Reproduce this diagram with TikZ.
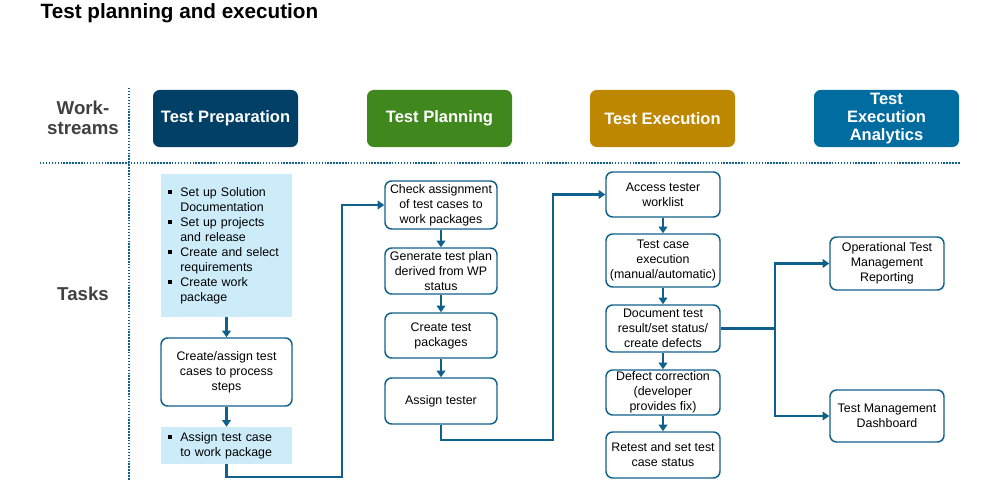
\documentclass[tikz,border=0pt]{standalone}
\usepackage{fontspec}
\setmainfont{Liberation Sans}
\definecolor{prepblue}{RGB}{0, 63, 102}
\definecolor{plangreen}{RGB}{64, 135, 30}
\definecolor{execgold}{RGB}{190, 135, 0}
\definecolor{anablue}{RGB}{0, 108, 160}
\definecolor{lineblue}{RGB}{16, 96, 140}
\definecolor{notefill}{RGB}{204, 236, 250}
\definecolor{labelgray}{RGB}{64, 64, 64}
\usepackage{tikz}
\usetikzlibrary{arrows.meta, positioning, calc}
\newcommand{\sqb}{\raisebox{1.8pt}{\rule{3pt}{3pt}}}
\tikzset{
  header/.style={rounded corners=5pt, text=white, font=\bfseries\fontsize{12.4}{13.5}\selectfont,
    minimum width=108.75pt, minimum height=42.75pt, align=center, inner sep=1pt},
  taskbox/.style={draw=lineblue, line width=1.1pt, rounded corners=5pt, fill=white,
    align=center, inner sep=1pt, font=\fontsize{9.3}{11.25}\selectfont},
  notebox/.style={fill=notefill, inner xsep=5pt, inner ysep=2pt, text width=88.25pt,
    align=left, font=\fontsize{9.3}{11.25}\selectfont},
  flow/.style={draw=lineblue, line width=2.1pt, -{Triangle[length=5pt, width=6.5pt]}},
  divider/.style={draw=lineblue, line width=1.5pt, dash pattern=on 1.1pt off 1.1pt},
  rowlabel/.style={font=\bfseries\fontsize{14}{15}\selectfont, text=labelgray, align=center}
}

\begin{document}
\begin{tikzpicture}[x=0.75pt, y=-0.75pt]
  \useasboundingbox (0,0) rectangle (1000,485);
  \node[anchor=west, font=\bfseries\fontsize{15.5}{18}\selectfont] (title) at (36,13) {Test planning and execution};

  % row labels and dividers
  \node[rowlabel] (lwork) at (83,118) {Work-\\streams};
  \node[rowlabel] (ltask) at (83,294) {Tasks};
  \draw[divider] (40,163) -- (960,163);
  \draw[divider] (129,88) -- (129,480);

  % workstream headers
  \foreach \x/\c/\t/\n in {225.5/prepblue/{Test Preparation}/hprep,
                            439.5/plangreen/{Test Planning}/hplan,
                            662.5/execgold/{Test Execution}/hexec,
                            886.5/anablue/{Test\\Execution\\Analytics}/hana} {
    \node[header, fill=\c] (\n) at (\x,118.5) {\t};
  }

  % test preparation
  \node[notebox, minimum height=107.25pt] (prepa) at (226.5,245.5) {%
    \begin{tabular}{@{}l@{\hspace{6.5pt}}l@{}}
      \sqb & Set up Solution\\ & Documentation\\
      \sqb & Set up projects\\ & and release\\
      \sqb & Create and select\\ & requirements\\
      \sqb & Create work\\ & package
    \end{tabular}};
  \node[taskbox, minimum width=98.25pt, minimum height=51pt] (prepb) at (226.5,372) {Create/assign test\\cases to process\\steps};
  \node[notebox, minimum height=27.75pt] (prepc) at (226.5,445.5) {%
    \begin{tabular}{@{}l@{\hspace{6.5pt}}l@{}}
      \sqb & Assign test case\\ & to work package
    \end{tabular}};

  % test planning
  \node[taskbox, minimum width=84pt, minimum height=36pt] (plana) at (441,205) {Check assignment\\of test cases to\\work packages};
  \node[taskbox, minimum width=84pt, minimum height=34.5pt] (planb) at (441,271) {Generate test plan\\derived from WP\\status};
  \node[taskbox, minimum width=84pt, minimum height=33.75pt] (planc) at (441,335.5) {Create test\\packages};
  \node[taskbox, minimum width=84pt, minimum height=34.5pt] (pland) at (441,401) {Assign tester};

  % test execution
  \node[taskbox, minimum width=85.5pt, minimum height=33.75pt] (execa) at (663,194.5) {Access tester\\worklist};
  \node[taskbox, minimum width=85.5pt, minimum height=39.75pt] (execb) at (663,260.5) {Test case\\execution\\(manual/automatic)};
  \node[taskbox, minimum width=85.5pt, minimum height=35.25pt] (execc) at (663,328.5) {Document test\\result/set status/\\create defects};
  \node[taskbox, minimum width=85.5pt, minimum height=33.75pt] (execd) at (663,392.5) {Defect correction\\(developer\\provides fix)};
  \node[taskbox, minimum width=85.5pt, minimum height=34.5pt] (exece) at (663,455) {Retest and set test\\case status};

  % analytics
  \node[taskbox, minimum width=85.5pt, minimum height=39.75pt] (anaa) at (887,263.5) {Operational Test\\Management\\Reporting};
  \node[taskbox, minimum width=85.5pt, minimum height=39pt] (anab) at (887,416) {Test Management\\Dashboard};

  % connectors
  \draw[flow] (prepa) -- (prepb);
  \draw[flow] (prepb) -- (prepc);
  \draw[flow] (plana) -- (planb);
  \draw[flow] (planb) -- (planc);
  \draw[flow] (planc) -- (pland);
  \draw[flow] (execa) -- (execb);
  \draw[flow] (execb) -- (execc);
  \draw[flow] (execc) -- (execd);
  \draw[flow] (execd) -- (exece);

  \coordinate (bend1) at (342,477);
  \coordinate (bend2) at (553,440);
  \coordinate (fork) at (775,328.5);
  \draw[flow] (prepc.south) |- (bend1) |- (plana.west);
  \draw[flow] (pland.south) |- (bend2) |- (execa.west);
  \draw[draw=lineblue, line width=2.1pt] (execc.east) -- (fork);
  \draw[flow] (fork) |- (anaa.west);
  \draw[flow] (fork) |- (anab.west);
\end{tikzpicture}
\end{document}
